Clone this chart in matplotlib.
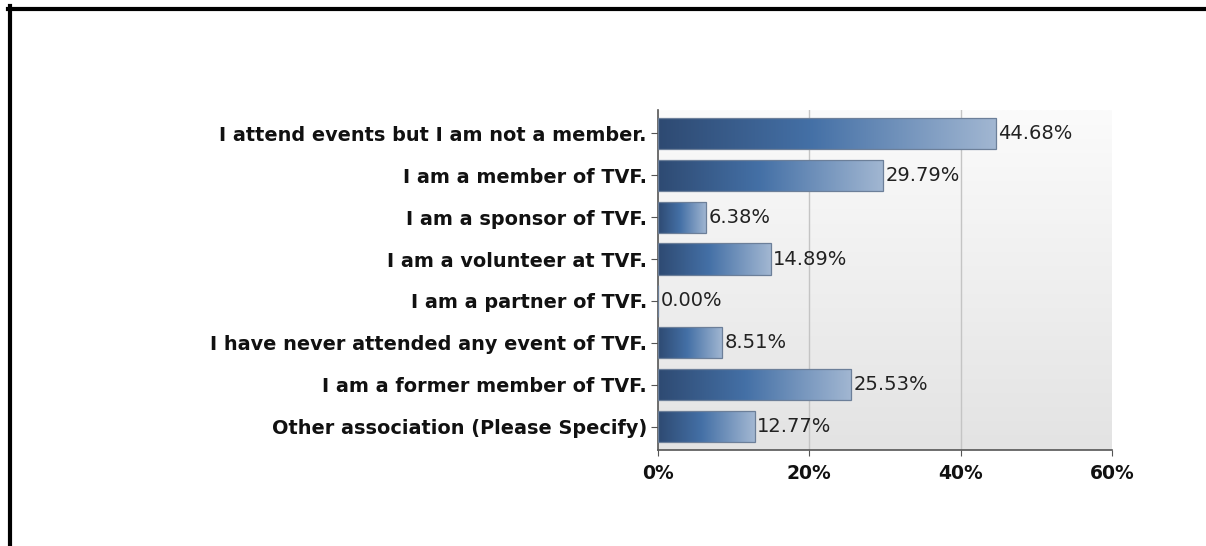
import numpy as np
import matplotlib.pyplot as plt
from matplotlib.colors import LinearSegmentedColormap
from matplotlib.lines import Line2D
from matplotlib.transforms import ScaledTranslation

# Anket sonucu: TVF ile ilişki
kategoriler = [
    "I attend events but I am not a member.",
    "I am a member of TVF.",
    "I am a sponsor of TVF.",
    "I am a volunteer at TVF.",
    "I am a partner of TVF.",
    "I have never attended any event of TVF.",
    "I am a former member of TVF.",
    "Other association (Please Specify)",
]
yuzdeler = [44.68, 29.79, 6.38, 14.89, 0.00, 8.51, 25.53, 12.77]
x_ticks = [0, 20, 40, 60]
x_etiketler = ["0%", "20%", "40%", "60%"]

plt.rcParams['font.family'] = ['DejaVu Sans']

fig = plt.figure(figsize=(12.06, 5.46), dpi=100)
ax = fig.add_axes([658 / 1206, 1 - 450 / 546, 454 / 1206, 340 / 546])

# arka plan: yukaridan asagiya acik gri gecis
bg = LinearSegmentedColormap.from_list("bg", ["#fbfbfb", "#e3e3e3"])
ax.imshow(np.linspace(0, 1, 256).reshape(-1, 1), cmap=bg, aspect='auto',
          extent=[0, 60, 7.55, -0.55], zorder=0)

for x in x_ticks[1:-1]:
    ax.axvline(x, color="#c4c4c4", linewidth=1, zorder=1)

# cubuklar
y = np.arange(len(kategoriler))
h = 0.74
bar_cmap = LinearSegmentedColormap.from_list(
    "bar", [(0, "#2e4a72"), (0.45, "#4470a6"), (1, "#a2b7d2")])
cubuklar = ax.barh(y, yuzdeler, height=h, color="none",
                   edgecolor="#6c7f99", linewidth=0.9, zorder=3)
for yi, v, p in zip(y, yuzdeler, cubuklar):
    if v > 0:
        im = ax.imshow(np.linspace(0, 1, 256).reshape(1, -1), cmap=bar_cmap,
                       aspect='auto', extent=[0, v, yi + h / 2, yi - h / 2],
                       zorder=2)
        im.set_clip_path(p)
    ax.text(v + 0.3, yi, f"{v:.2f}%", va='center', ha='left',
            fontsize=14, color="#222222", zorder=4)
ax.set_xlim(0, 60)
ax.set_ylim(7.55, -0.55)

ax.set_yticks(y)
ax.set_yticklabels(kategoriler, fontsize=13.9, fontweight='bold', color="#111111")
# etiketleri biraz yukari kaydir
for lbl in ax.get_yticklabels():
    lbl.set_transform(lbl.get_transform() + ScaledTranslation(0, 1.5 / 72, fig.dpi_scale_trans))
ax.set_xticks(x_ticks)
ax.set_xticklabels(x_etiketler, fontsize=13.5, fontweight='bold', color="#111111")
ax.tick_params(axis='y', length=5, color="#555555", pad=3)
ax.tick_params(axis='x', length=4, color="#555555", pad=6)

for s in ['top', 'right']:
    ax.spines[s].set_visible(False)
for s in ['left', 'bottom']:
    ax.spines[s].set_color("#555555")
    ax.spines[s].set_linewidth(1.2)

# dis cerceve
fig.add_artist(Line2D([9.5 / 1206, 9.5 / 1206], [0, 1 - 6 / 546],
                      transform=fig.transFigure, color="black", linewidth=3))
fig.add_artist(Line2D([8 / 1206, 1], [1 - 8.5 / 546, 1 - 8.5 / 546],
                      transform=fig.transFigure, color="black", linewidth=3))

plt.savefig("out.png", dpi=100)
